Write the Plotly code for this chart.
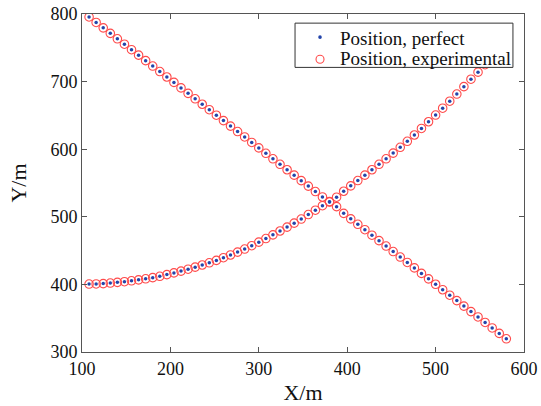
import plotly.graph_objects as go

# x positions (m) shared by both tracks
x_vals = [108, 116, 124, 132, 140, 148, 156, 164, 172, 180,
          188, 196, 204, 212, 220, 228, 236, 244, 252, 260,
          268, 276, 284, 292, 300, 308, 316, 324, 332, 340,
          348, 356, 364, 372, 380, 388, 396, 404, 412, 420,
          428, 436, 444, 452, 460, 468, 476, 484, 492, 500,
          508, 516, 524, 532, 540, 548, 556, 564, 572, 580]

# descending track y (m)
y_track1 = [795.6, 787.5, 779.5, 771.4, 763.3, 755.3, 747.2, 739.1, 731.0, 723.0,
            714.9, 706.8, 698.8, 690.7, 682.6, 674.6, 666.5, 658.4, 650.3, 642.3,
            634.2, 626.1, 618.1, 610.0, 601.9, 593.9, 585.8, 577.7, 569.6, 561.6,
            553.5, 545.4, 537.4, 529.3, 521.8, 515.0, 505.1, 497.0, 488.9, 480.9,
            472.8, 464.7, 456.7, 448.6, 440.5, 432.5, 424.4, 416.3, 408.2, 400.2,
            392.1, 384.0, 376.0, 367.9, 359.8, 351.8, 343.7, 335.6, 327.5, 319.5]

# ascending track y (m)
y_track2 = [400.5, 400.7, 401.2, 402.0, 403.0, 404.0, 405.3, 406.7, 408.3, 410.0,
            412.0, 414.5, 417.0, 419.7, 422.5, 425.5, 428.7, 432.0, 435.5, 439.5,
            443.5, 447.8, 452.3, 457.2, 462.5, 467.8, 473.3, 479.0, 484.8, 490.6,
            496.7, 503.3, 509.8, 516.4, 522.4, 529.0, 537.8, 545.8, 553.6, 561.6,
            569.6, 577.7, 585.8, 594.2, 602.8, 611.7, 621.0, 630.7, 640.6, 650.5,
            660.6, 671.0, 681.6, 692.5, 703.5, 714.0, 725.0, 736.0, 747.0, 758.0]

series_names = ["Position, perfect", "Position, experimental"]

perfect_x = x_vals + [None] + x_vals
perfect_y = y_track1 + [None] + y_track2
exp_x = x_vals + [None] + x_vals
exp_y = y_track1 + [None] + y_track2

BLUE = "#2244aa"
RED = "#ff4b4b"
font_family = "Liberation Serif"

fig = go.Figure()
fig.add_trace(go.Scatter(
    x=perfect_x, y=perfect_y, mode="markers", name=series_names[0],
    marker=dict(symbol="circle", size=3.5, color=BLUE, line=dict(width=0)),
))
fig.add_trace(go.Scatter(
    x=exp_x, y=exp_y, mode="markers", name=series_names[1],
    marker=dict(symbol="circle-open", size=8.5, color=RED, line=dict(width=1.1)),
))

axis_common = dict(
    showline=True, linecolor="#555555", linewidth=1, mirror="ticks",
    ticks="inside", ticklen=5, tickcolor="#555555", tickwidth=1,
    showgrid=False, zeroline=False, automargin=False,
    tickfont=dict(family=font_family, size=18, color="#111111"),
)

# legend box (drawn as a framed box in the upper right, like the reference)
fig.add_shape(type="rect", xref="paper", yref="paper",
              x0=0.482, x1=0.975, y0=0.842, y1=0.973,
              line=dict(color="#333333", width=1), fillcolor="white", layer="above")
# legend symbols
legend_y = [0.9275, 0.8683]
fig.add_shape(type="circle", xref="paper", yref="paper",
              xsizemode="pixel", ysizemode="pixel",
              xanchor=0.5385, yanchor=legend_y[0] + 0.004, x0=-1.8, x1=1.8, y0=-1.8, y1=1.8,
              line=dict(width=0), fillcolor=BLUE, layer="above")
fig.add_shape(type="circle", xref="paper", yref="paper",
              xsizemode="pixel", ysizemode="pixel",
              xanchor=0.5385, yanchor=legend_y[1] - 0.002, x0=-4, x1=4, y0=-4, y1=4,
              line=dict(width=1.1, color=RED), fillcolor="rgba(0,0,0,0)", layer="above")
for name, ypos in zip(series_names, legend_y):
    fig.add_annotation(xref="paper", yref="paper", x=0.580, y=ypos,
                       xanchor="left", yanchor="middle", showarrow=False,
                       text=name, font=dict(family=font_family, size=19, color="#111111"))

fig.update_layout(
    width=541, height=406,
    margin=dict(l=82, r=17, t=14, b=54, pad=0, autoexpand=False),
    paper_bgcolor="white", plot_bgcolor="white",
    font=dict(family=font_family, color="#111111"),
    xaxis=dict(range=[100, 600], tickvals=[100, 200, 300, 400, 500, 600],
               title=dict(text="X/m", font=dict(family=font_family, size=22), standoff=7),
               **axis_common),
    yaxis=dict(range=[300, 800], tickvals=[300, 400, 500, 600, 700, 800],
               title=dict(text="Y/m", font=dict(family=font_family, size=22), standoff=17),
               **axis_common),
    showlegend=False,
)

fig.write_html("out.html", config={"displayModeBar": False},
               post_script="document.body.style.margin='0px';")
